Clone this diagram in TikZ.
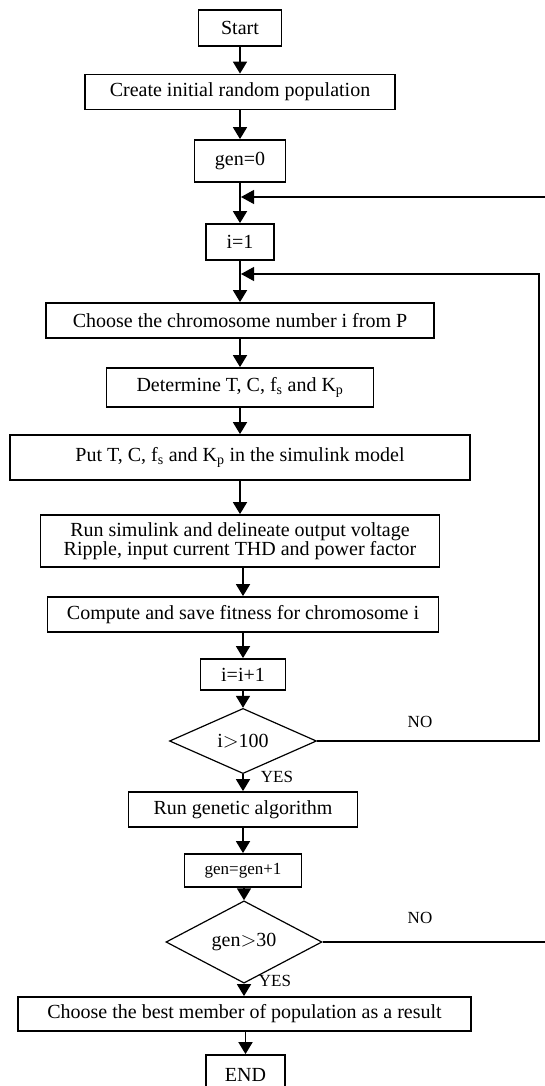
\documentclass[tikz,border=0pt]{standalone}
\usepackage{fontspec}
\setmainfont{Liberation Serif}
\usetikzlibrary{arrows.meta,shapes.geometric}
\tikzset{
  blok/.style={draw, line width=1.8pt, inner sep=0pt, align=center,
    font=\fontsize{20}{23}\selectfont},
  keuze/.style={draw, diamond, line width=1.2pt, inner sep=0pt,
    font=\fontsize{20}{23}\selectfont},
  pijl/.style={-{Triangle[width=14pt,length=12pt]}, line width=1.8pt},
  terug/.style={-{Triangle[width=14pt,length=13pt]}, line width=1.2pt},
  antw/.style={font=\fontsize{17}{19}\selectfont}
}
\begin{document}
\begin{tikzpicture}[x=1pt, y=-1pt]
    \useasboundingbox (0,0) rectangle (545,1086);
    % Blokken
    \node[blok, minimum width=83pt, minimum height=36pt] (start) at (240,28) {Start};
    \node[blok, minimum width=310pt, minimum height=35pt] (create) at (240,92) {Create initial random population};
    \node[blok, minimum width=91pt, minimum height=42pt] (gen0) at (240,161) {gen=0};
    \node[blok, minimum width=68pt, minimum height=36pt] (i1) at (240,242) {i=1};
    \node[blok, minimum width=388pt, minimum height=35pt] (choose) at (240,320.5) {Choose the chromosome number i from P};
    \node[blok, minimum width=267pt, minimum height=39pt] (determine) at (240,387.5) {Determine T, C, f\textsubscript{s} and K\textsubscript{p}};
    \node[blok, minimum width=460pt, minimum height=45pt] (put) at (240,457.5) {Put T, C, f\textsubscript{s} and K\textsubscript{p} in the simulink model};
    \node[blok, minimum width=399pt, minimum height=52pt] (run) at (240,541) {Run simulink and delineate output voltage\\[-4pt]Ripple, input current THD and power factor};
    \node[blok, minimum width=391pt, minimum height=35pt] (compute) at (243,614.5) {Compute and save fitness for chromosome i};
    \node[blok, minimum width=85pt, minimum height=31pt] (inc) at (243,674.5) {i=i+1};
    \node[keuze, minimum width=147pt, minimum height=47pt] (test1) at (243,741) {i$>$100};
    \node[blok, minimum width=229pt, minimum height=35pt] (ga) at (243,809.5) {Run genetic algorithm};
    \node[blok, minimum width=117pt, minimum height=33pt, font=\fontsize{17}{20}\selectfont] (geninc) at (243,870.5) {gen=gen+1};
    \node[keuze, minimum width=156pt, minimum height=58pt] (test2) at (244,942) {gen$>$30};
    \node[blok, minimum width=453pt, minimum height=34pt] (best) at (244.5,1014) {Choose the best member of population as a result};
    \node[blok, minimum width=79pt, minimum height=40pt] (end) at (245.5,1075) {END};
    % Labels
    \node[antw] (ja1) at (277,777) {YES};
    \node[antw] (nee1) at (420,722) {NO};
    \node[antw] (ja2) at (275,981) {YES};
    \node[antw] (nee2) at (420,918) {NO};
    % Pijlen
    \draw[pijl] (start) -- (create);
    \draw[pijl] (create) -- (gen0);
    \draw[pijl] (gen0) -- (i1);
    \draw[pijl] (i1) -- (choose);
    \draw[pijl] (choose) -- (determine);
    \draw[pijl] (determine) -- (put);
    \draw[pijl] (put) -- (run);
    \draw[pijl] (run.south -| compute) -- (compute);
    \draw[pijl] (compute) -- (inc);
    \draw[pijl] (inc) -- (test1);
    \draw[pijl] (test1) -- (ga);
    \draw[pijl] (ga) -- (geninc);
    \draw[pijl] (geninc.south -| test2) -- (test2);
    \draw[pijl] (test2) -- (best.north -| test2);
    \draw[pijl] (best.south -| end) -- (end);
    % Terugkoppelingen
    \coordinate (in1) at (241,274);
    \coordinate (hoek1) at (539,274);
    \coordinate (in2) at (241,197);
    \coordinate (hoek2) at (552,197);
    \draw[terug] (test1.east) -| (hoek1) -- (in1);
    \draw[terug] (test2.east) -| (hoek2) -- (in2);
\end{tikzpicture}
\end{document}
